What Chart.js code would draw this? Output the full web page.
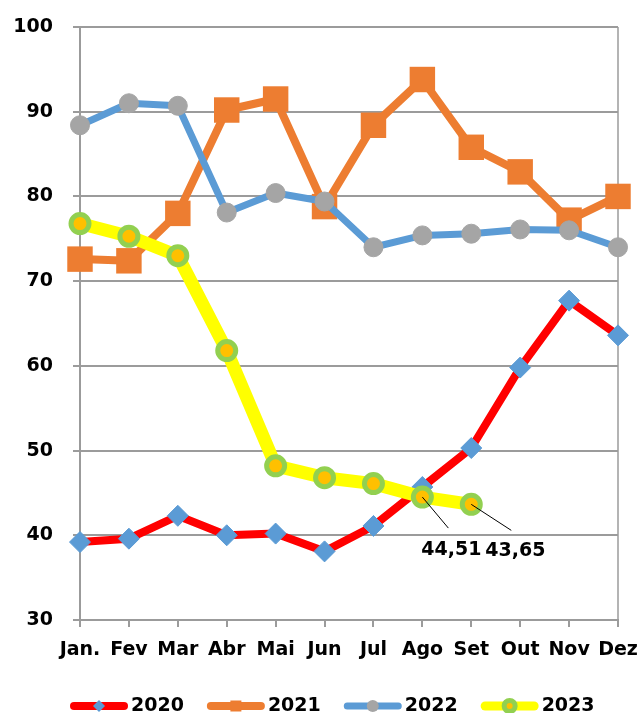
<!DOCTYPE html>
<html>
<head>
<meta charset="utf-8">
<script src="https://cdn.jsdelivr.net/npm/chart.js@4.4.1/dist/chart.umd.min.js"></script>
<style>
  html, body { margin: 0; padding: 0; background: #fff; }
  #wrap { width: 638px; height: 713px; }
</style>
</head>
<body>
<div id="wrap"><canvas id="chart" width="638" height="713"></canvas></div>
<script>
// ===== Data =====
const months = ['Jan.', 'Fev', 'Mar', 'Abr', 'Mai', 'Jun', 'Jul', 'Ago', 'Set', 'Out', 'Nov', 'Dez'];
const seriesNames = ['2020', '2021', '2022', '2023'];
const values2020 = [39.2, 39.6, 42.3, 40.0, 40.2, 38.1, 41.1, 45.7, 50.3, 59.8, 67.7, 63.6];
const values2021 = [72.6, 72.4, 78.0, 90.2, 91.5, 78.8, 88.4, 93.8, 85.8, 82.9, 77.2, 80.0];
const values2022 = [88.4, 91.0, 90.7, 78.1, 80.4, 79.4, 74.0, 75.4, 75.6, 76.1, 76.0, 74.0];
const values2023 = [76.8, 75.3, 73.0, 61.8, 48.2, 46.8, 46.1, 44.51, 43.65, null, null, null];
const yTicks = [30, 40, 50, 60, 70, 80, 90, 100];
const labelledPoints = [7, 8]; // 2023 points that carry a value label

const FONT_FAMILY = '"DejaVu Sans", Verdana, sans-serif';
const AXIS_FONT = { family: FONT_FAMILY, size: 19, weight: 'bold' };
const GRID = '#9b9b9b';

// ===== Legend (line + marker, drawn under the plot) =====
function drawMarker(ctx, style, x, y, r) {
  ctx.beginPath();
  if (style === 'rectRot') {
    ctx.moveTo(x - r, y); ctx.lineTo(x, y - r); ctx.lineTo(x + r, y); ctx.lineTo(x, y + r);
    ctx.closePath();
  } else if (style === 'rect') {
    ctx.rect(x - r, y - r, 2 * r, 2 * r);
  } else {
    ctx.arc(x, y, r, 0, Math.PI * 2);
  }
}

const legendPlugin = {
  id: 'lineLegend',
  afterDraw(chart) {
    const ctx = chart.ctx;
    const y = 706;
    let x = 70;
    ctx.save();
    ctx.font = 'bold 19px ' + FONT_FAMILY;
    ctx.textBaseline = 'alphabetic';
    chart.data.datasets.forEach(ds => {
      const lg = ds.legend;
      ctx.strokeStyle = ds.borderColor;
      ctx.lineWidth = lg.lineWidth;
      ctx.lineCap = 'round';
      ctx.beginPath();
      ctx.moveTo(x + lg.lineWidth / 2, y);
      ctx.lineTo(x + 58 - lg.lineWidth / 2, y);
      ctx.stroke();

      ctx.fillStyle = ds.pointBackgroundColor;
      drawMarker(ctx, ds.pointStyle, x + 29, y, lg.radius);
      ctx.fill();
      if (lg.ring) {
        ctx.strokeStyle = ds.pointBorderColor;
        ctx.lineWidth = lg.ring;
        ctx.stroke();
      }

      ctx.fillStyle = '#000';
      ctx.fillText(ds.label, x + 61, y + 5);
      x += 61 + ctx.measureText(ds.label).width + 23;
    });
    ctx.restore();
  }
};

// ===== Value labels with leader lines =====
const valueLabelPlugin = {
  id: 'valueLabels',
  afterDatasetsDraw(chart) {
    const ctx = chart.ctx;
    const meta = chart.getDatasetMeta(3);
    const offsets = [
      { lx: 26, ly: 31, tx: -1, ty: 53 },
      { lx: 40, ly: 26, tx: 14, ty: 47 }
    ];
    ctx.save();
    ctx.font = 'bold 19px ' + FONT_FAMILY;
    ctx.textBaseline = 'middle';
    ctx.textAlign = 'left';
    labelledPoints.forEach((idx, i) => {
      const pt = meta.data[idx];
      const o = offsets[i];
      ctx.strokeStyle = '#000';
      ctx.lineWidth = 1;
      ctx.beginPath();
      ctx.moveTo(pt.x, pt.y);
      ctx.lineTo(pt.x + o.lx, pt.y + o.ly);
      ctx.stroke();
      ctx.fillStyle = '#000';
      const txt = values2023[idx].toFixed(2).replace('.', ',');
      ctx.fillText(txt, pt.x + o.tx, pt.y + o.ty);
    });
    ctx.restore();
  }
};

// ===== Chart =====
const chartCanvas = document.getElementById('chart');

new Chart(chartCanvas, {
  type: 'line',
  data: {
    labels: months,
    datasets: [
      {
        label: seriesNames[0], data: values2020, order: 3,
        borderColor: '#FF0000', borderWidth: 8,
        pointStyle: 'rectRot', pointRadius: 10.5, pointHoverRadius: 10.5,
        pointBackgroundColor: '#5B9BD5', pointBorderColor: '#5B9BD5', pointBorderWidth: 1,
        legend: { lineWidth: 8, radius: 6 }
      },
      {
        label: seriesNames[1], data: values2021, order: 2,
        borderColor: '#ED7D31', borderWidth: 8,
        pointStyle: 'rect', pointRadius: 18, pointHoverRadius: 18,
        pointBackgroundColor: '#ED7D31', pointBorderColor: '#ED7D31', pointBorderWidth: 0,
        legend: { lineWidth: 8, radius: 5.5 }
      },
      {
        label: seriesNames[2], data: values2022, order: 1,
        borderColor: '#5B9BD5', borderWidth: 7,
        pointStyle: 'circle', pointRadius: 9.5, pointHoverRadius: 9.5,
        pointBackgroundColor: '#A5A5A5', pointBorderColor: '#A5A5A5', pointBorderWidth: 1,
        legend: { lineWidth: 7, radius: 6 }
      },
      {
        label: seriesNames[3], data: values2023, order: 0,
        borderColor: '#FFFF00', borderWidth: 13,
        pointStyle: 'circle', pointRadius: 9, pointHoverRadius: 9,
        pointBackgroundColor: '#FFC000', pointBorderColor: '#92D050', pointBorderWidth: 5,
        legend: { lineWidth: 9, radius: 5.5, ring: 5 }
      }
    ].map(ds => Object.assign({ tension: 0, borderJoinStyle: 'round', borderCapStyle: 'round', spanGaps: false }, ds))
  },
  options: {
    responsive: false,
    animation: false,
    events: [],
    layout: { padding: { top: 27, right: 20, bottom: 0, left: 0 } },
    plugins: {
      legend: { display: false },
      tooltip: { enabled: false }
    },
    scales: {
      x: {
        offset: false,
        afterFit: s => {
          s.height = 93;
          s.paddingLeft = 0;
          s.paddingRight = 0;
        },
        border: { display: true, color: GRID, width: 2 },
        grid: {
          drawOnChartArea: true,
          drawTicks: true,
          tickLength: 7,
          lineWidth: 2,
          tickColor: GRID,
          color: c => (c.index === months.length - 1 ? '#b4b4b4' : 'rgba(0,0,0,0)')
        },
        ticks: {
          autoSkip: false, maxRotation: 0, minRotation: 0,
          padding: 12, color: '#000', font: AXIS_FONT
        }
      },
      y: {
        min: 30, max: 100,
        afterFit: s => {
          s.width = 80;
          s.paddingTop = 0;
          s.paddingBottom = 0;
        },
        afterBuildTicks: s => { s.ticks = yTicks.map(v => ({ value: v })); },
        border: { display: true, color: GRID, width: 2 },
        grid: { color: GRID, lineWidth: 2, tickLength: 7, tickColor: GRID },
        ticks: { padding: 20, color: '#000', font: { family: FONT_FAMILY, size: 19, weight: 'bold' } }
      }
    }
  },
  plugins: [valueLabelPlugin, legendPlugin]
});
</script>
</body>
</html>
